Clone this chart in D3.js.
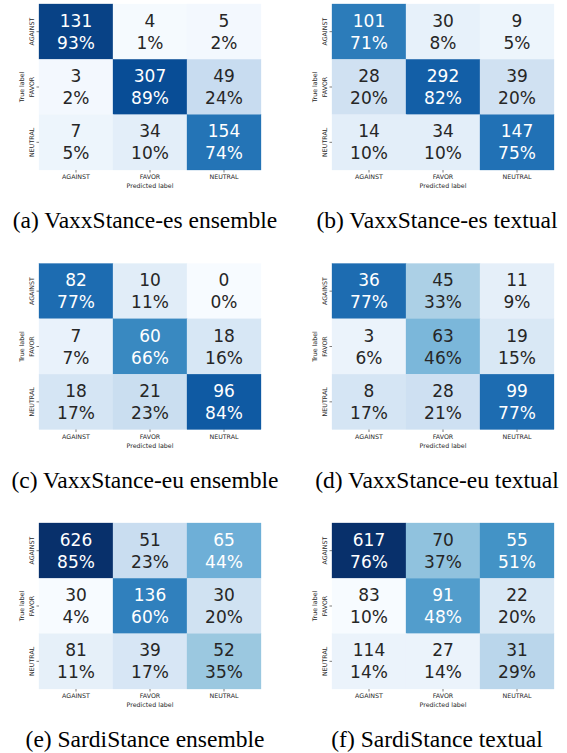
<!DOCTYPE html>
<html>
<head>
<meta charset="utf-8">
<script src="https://cdn.jsdelivr.net/npm/d3@7"></script>
<style>
  html, body { margin: 0; padding: 0; background: #ffffff; }
  svg { display: block; }
</style>
</head>
<body>
<svg id="chart" width="567" height="753"></svg>
<script>
// ---------- DATA ----------
const categories = ["AGAINST", "FAVOR", "NEUTRAL"];
const captions = [
  "(a) VaxxStance-es ensemble",
  "(b) VaxxStance-es textual",
  "(c) VaxxStance-eu ensemble",
  "(d) VaxxStance-eu textual",
  "(e) SardiStance ensemble",
  "(f) SardiStance textual"
];
const xAxisLabel = "Predicted label";
const yAxisLabel = "True label";

// counts (rows = true label, cols = predicted label)
const countsA = [[131, 4, 5], [3, 307, 49], [7, 34, 154]];
const countsB = [[101, 30, 9], [28, 292, 39], [14, 34, 147]];
const countsC = [[82, 10, 0], [7, 60, 18], [18, 21, 96]];
const countsD = [[36, 45, 11], [3, 63, 19], [8, 28, 99]];
const countsE = [[626, 51, 65], [30, 136, 30], [81, 39, 52]];
const countsF = [[617, 70, 55], [83, 91, 22], [114, 27, 31]];

// percentages as printed
const pctA = [[93, 1, 2], [2, 89, 24], [5, 10, 74]];
const pctB = [[71, 8, 5], [20, 82, 20], [10, 10, 75]];
const pctC = [[77, 11, 0], [7, 66, 16], [17, 23, 84]];
const pctD = [[77, 33, 9], [6, 46, 15], [17, 21, 77]];
const pctE = [[85, 23, 44], [4, 60, 20], [11, 17, 35]];
const pctF = [[76, 37, 51], [10, 48, 20], [14, 14, 29]];

const countSets = [countsA, countsB, countsC, countsD, countsE, countsF];
const pctSets = [pctA, pctB, pctC, pctD, pctE, pctF];

// ---------- LAYOUT / STYLE ----------
const svg = d3.select("#chart");
const colX = [39, 332];
const rowY = [4, 263.5, 523];
const hmW = 222, hmH = 166;
const captionX = [145, 437];
const captionBaseline = [228, 487.5, 747];
const fixedDomain = [true, true, true, true, false, false];

// matplotlib "Blues" anchors
const bluesStops = ["#f7fbff", "#deebf7", "#c6dbef", "#9ecae1", "#6baed6", "#4292c6", "#2171b5", "#08519c", "#08306b"];
const blues = d3.scaleLinear()
  .domain(d3.range(9).map(i => i / 8))
  .range(bluesStops)
  .interpolate(d3.interpolateRgb)
  .clamp(true);

function luminance(c) {
  const rgb = d3.rgb(c);
  const f = v => { v /= 255; return v <= 0.03928 ? v / 12.92 : Math.pow((v + 0.055) / 1.055, 2.4); };
  return 0.2126 * f(rgb.r) + 0.7152 * f(rgb.g) + 0.0722 * f(rgb.b);
}

const annFont = "'DejaVu Sans', sans-serif";
const tickColor = "#262626";

countSets.forEach((counts, p) => {
  const pct = pctSets[p];
  const col = p % 2, row = Math.floor(p / 2);
  const g = svg.append("g").attr("transform", `translate(${colX[col]},${rowY[row]})`);

  const x = d3.scaleBand().domain(categories).range([0, hmW]);
  const y = d3.scaleBand().domain(categories).range([0, hmH]);

  const flat = pct.flat();
  const domain = fixedDomain[p] ? [0, 100] : [d3.min(flat), d3.max(flat)];
  const norm = d3.scaleLinear().domain(domain).range([0, 1]).clamp(true);

  const cells = [];
  categories.forEach((tr, i) => categories.forEach((pr, j) => {
    cells.push({ tr, pr, count: counts[i][j], pct: pct[i][j] });
  }));

  const cg = g.selectAll("g.cell").data(cells).join("g").attr("class", "cell");
  cg.append("rect")
    .attr("x", d => x(d.pr))
    .attr("y", d => y(d.tr))
    .attr("width", x.bandwidth())
    .attr("height", y.bandwidth())
    .attr("fill", d => blues(norm(d.pct)))
    .attr("stroke", d => blues(norm(d.pct)))
    .attr("stroke-width", 0.3);

  const txtColor = d => luminance(blues(norm(d.pct))) > 0.408 ? "#262626" : "#ffffff";
  cg.append("text")
    .attr("x", d => x(d.pr) + x.bandwidth() / 2)
    .attr("y", d => y(d.tr) + y.bandwidth() / 2 - 5)
    .attr("text-anchor", "middle")
    .attr("font-family", annFont)
    .attr("font-size", 17)
    .attr("fill", txtColor)
    .text(d => d.count);
  cg.append("text")
    .attr("x", d => x(d.pr) + x.bandwidth() / 2)
    .attr("y", d => y(d.tr) + y.bandwidth() / 2 + 17)
    .attr("text-anchor", "middle")
    .attr("font-family", annFont)
    .attr("font-size", 17)
    .attr("fill", txtColor)
    .text(d => d.pct + "%");

  // x axis
  const xa = g.append("g").attr("transform", `translate(0,${hmH})`)
    .call(d3.axisBottom(x).tickSize(2.5).tickPadding(2.2));
  xa.select(".domain").remove();
  xa.selectAll("line").attr("stroke", tickColor).attr("stroke-width", 0.6);
  xa.selectAll("text").attr("font-family", annFont).attr("font-size", 6.3).attr("fill", tickColor);

  g.append("text")
    .attr("x", hmW / 2).attr("y", hmH + 18)
    .attr("text-anchor", "middle")
    .attr("font-family", annFont).attr("font-size", 6.3).attr("fill", tickColor)
    .text(xAxisLabel);

  // y axis
  const ya = g.append("g").call(d3.axisLeft(y).tickSize(2.5));
  ya.select(".domain").remove();
  ya.selectAll("line").attr("stroke", tickColor).attr("stroke-width", 0.6);
  ya.selectAll("text")
    .attr("transform", "rotate(-90)")
    .attr("x", 0).attr("y", -4.7).attr("dy", null)
    .attr("text-anchor", "middle")
    .attr("font-family", annFont).attr("font-size", 6.3).attr("fill", tickColor);

  g.append("text")
    .attr("transform", `translate(-15,${hmH / 2}) rotate(-90)`)
    .attr("text-anchor", "middle")
    .attr("font-family", annFont).attr("font-size", 6.3).attr("fill", tickColor)
    .text(yAxisLabel);

  // caption
  svg.append("text")
    .attr("x", captionX[col]).attr("y", captionBaseline[row])
    .attr("text-anchor", "middle")
    .attr("font-family", "'Liberation Serif', 'Times New Roman', serif")
    .attr("font-size", 23.5)
    .attr("fill", "#000000")
    .text(captions[p]);
});
</script>
</body>
</html>
